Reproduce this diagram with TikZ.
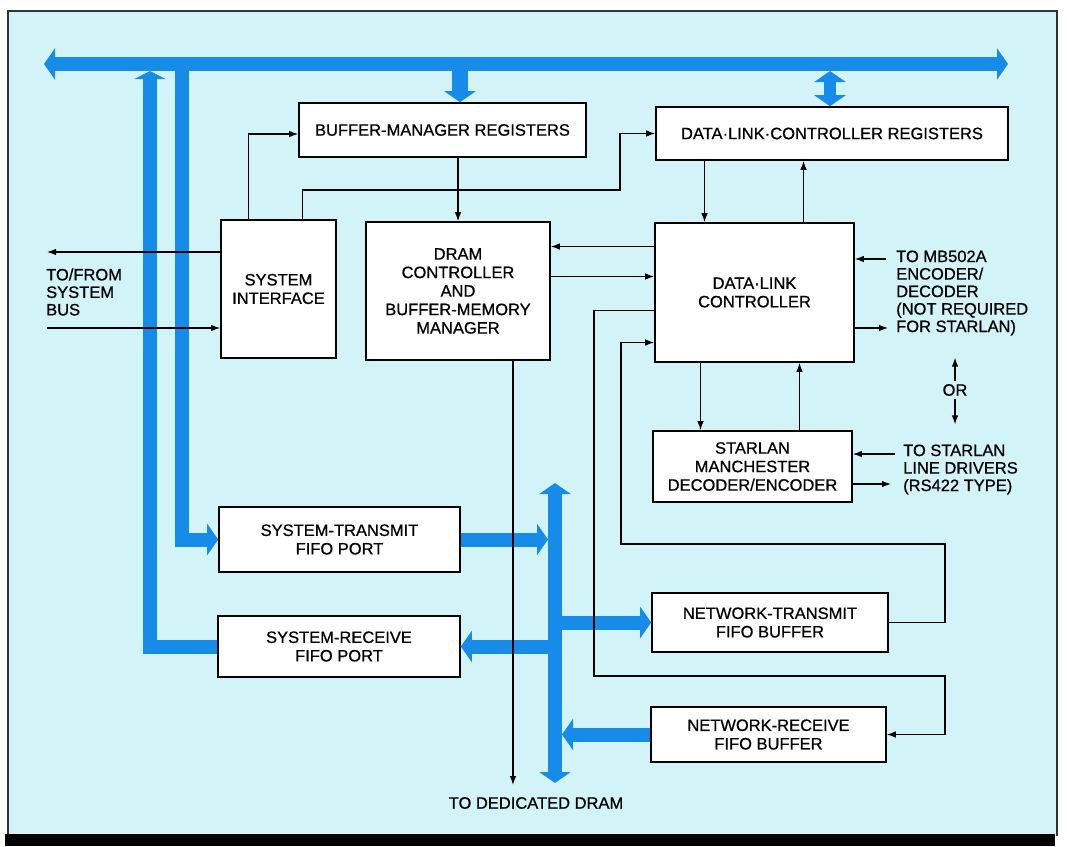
\documentclass[tikz,border=0pt]{standalone}
\usepackage{fontspec}
\setmainfont{Liberation Sans}[FakeBold=0.7]
\usetikzlibrary{arrows.meta}
\definecolor{bgcyan}{RGB}{210,243,248}
\definecolor{busblue}{RGB}{22,140,232}
\newcommand{\diagfont}{\fontsize{16.5}{18.5}\selectfont}
\newcommand{\notefont}{\fontsize{16.5}{17.5}\selectfont}
\begin{document}
\begin{tikzpicture}[x=1pt, y=-1pt,
    every node/.style={font=\diagfont},
    blk/.style={draw, fill=white, line width=1.6pt, inner sep=0pt, align=center},
    bus/.style={line width=14pt, draw=busblue, -{Triangle[length=11pt,width=31pt]}},
    busboth/.style={bus, {Triangle[length=11pt,width=31pt]}-{Triangle[length=11pt,width=31pt]}},
    wire/.style={line width=1.2pt, -{Latex[length=9pt,width=6.5pt]}},
    note/.style={align=left, inner sep=0pt, anchor=west, font=\notefont}]
    \useasboundingbox (0,0) rectangle (1067,846);
    \fill[white] (0,0) rectangle (1067,846);
    \fill[bgcyan] (8,11) rectangle (1057,836);
    \draw[line width=1.5pt, black!80] (8,836) -- (8,11) -- (1057,11) -- (1057,836);
    \fill[black] (5,834) rectangle (1055,846);

    \node[blk, minimum width=287pt, minimum height=54pt] (bmr) at (442.5,130) {BUFFER-MANAGER REGISTERS};
    \node[blk, minimum width=352pt, minimum height=53pt] (dlcr) at (832,133.5) {DATA·LINK·CONTROLLER REGISTERS};
    \node[blk, minimum width=115pt, minimum height=138pt] (si) at (278.5,289) {SYSTEM\\INTERFACE};
    \node[blk, minimum width=184pt, minimum height=138pt] (dram) at (458,291) {DRAM\\CONTROLLER\\AND\\BUFFER-MEMORY\\MANAGER};
    \node[blk, minimum width=199pt, minimum height=139pt] (dlc) at (754.5,292.5) {DATA·LINK\\CONTROLLER};
    \node[blk, minimum width=199pt, minimum height=71pt] (sm) at (752.5,466.5) {STARLAN\\MANCHESTER\\DECODER/ENCODER};
    \node[blk, minimum width=241pt, minimum height=65pt] (stx) at (339.5,539.5) {SYSTEM-TRANSMIT\\FIFO PORT};
    \node[blk, minimum width=242pt, minimum height=61pt] (srx) at (339,646.5) {SYSTEM-RECEIVE\\FIFO PORT};
    \node[blk, minimum width=236pt, minimum height=59pt] (ntx) at (770,622.5) {NETWORK-TRANSMIT\\FIFO BUFFER};
    \node[blk, minimum width=235pt, minimum height=55pt] (nrx) at (768.5,734.5) {NETWORK-RECEIVE\\FIFO BUFFER};

    \coordinate (busL) at (44,64);
    \coordinate (busR) at (1008,64);
    \draw[busboth] (busL) -- (busR);
    \coordinate (lbus) at (150,71);
    \draw[bus, -{Triangle[length=8pt,width=31pt]}] (srx.west) -| (lbus);
    \coordinate (rbus) at (182,64);
    \draw[bus] (rbus) |- (stx.west);
    \coordinate (bmrbus) at (460,64);
    \draw[bus, line width=16pt] (bmrbus) -- (bmrbus |- bmr.north);
    \coordinate (dlcrbus) at (830,71);
    \draw[busboth, line width=12pt] (dlcrbus) -- (dlcrbus |- dlcr.north);
    \coordinate (mbT) at (555,483);
    \coordinate (mbB) at (555,783);
    \draw[busboth] (mbT) -- (mbB);
    \draw[bus] (stx.east) -- ([xshift=-7pt]stx.east -| mbT);
    \draw[bus] ([xshift=7pt]srx.east -| mbT) -- (srx.east);
    \draw[bus] ([xshift=7pt]ntx.west -| mbT) -- (ntx.west);
    \draw[bus] (nrx.west) -- ([xshift=7pt]nrx.west -| mbT);

    \draw[wire] ([xshift=28pt]si.north west) |- ([yshift=-4pt]bmr.west);
    \coordinate (sibend) at (620,190);
    \draw[wire] ([xshift=82pt]si.north west) |- (sibend) |- (dlcr.west);
    \draw[wire] (bmr.south -| dram.north) -- (dram.north);
    \draw[wire] ([xshift=-50pt]dlc.north |- dlcr.south) -- ([xshift=-50pt]dlc.north);
    \draw[wire] ([xshift=49pt]dlc.north) -- ([xshift=49pt]dlc.north |- dlcr.south);
    \draw[wire] ([yshift=46pt]dlc.west) -- ([yshift=46pt]dlc.west -| dram.east);
    \draw[wire] ([yshift=16pt]dlc.west -| dram.east) -- ([yshift=16pt]dlc.west);
    \coordinate (nrA) at (594,676);
    \coordinate (nrB) at (945,676);
    \draw[wire] ([yshift=-18pt]dlc.west) -| (nrA) -- (nrB) |- (nrx.east);
    \coordinate (ntA) at (945,544);
    \coordinate (ntB) at (621,544);
    \draw[wire] (ntx.east) -| (ntA) -- (ntB) |- ([yshift=-50pt]dlc.west);
    \draw[wire] ([xshift=-52pt]sm.north |- dlc.south) -- ([xshift=-52pt]sm.north);
    \draw[wire] ([xshift=47pt]sm.north) -- ([xshift=47pt]sm.north |- dlc.south);
    \coordinate (dramend) at (513,785);
    \draw[wire] (dram.south -| dramend) -- (dramend);
    \node (dedram) at (536,803) {TO DEDICATED DRAM};

    \coordinate (sysout) at (47,252);
    \coordinate (sysin) at (47,328);
    \draw[wire] (si.west |- sysout) -- (sysout);
    \draw[wire] (sysin) -- (si.west |- sysin);
    \node[note] (sysbus) at (46,292) {TO/FROM\\SYSTEM\\BUS};

    \coordinate (mbin) at (886,259);
    \coordinate (mbout) at (888,328);
    \draw[wire] (mbin) -- (mbin -| dlc.east);
    \draw[wire] (mbout -| dlc.east) -- (mbout);
    \node[note] (mbnote) at (896,293) {TO MB502A\\ENCODER/\\DECODER\\(NOT REQUIRED\\FOR STARLAN)};
    \node (ornote) at (955,390) {OR};
    \draw[wire] (ornote.north) -- ++(0,-23);
    \draw[wire] (ornote.south) -- ++(0,25);
    \coordinate (slin) at (895,454);
    \coordinate (slout) at (891,484);
    \draw[wire] (slin) -- (slin -| sm.east);
    \draw[wire] (slout -| sm.east) -- (slout);
    \node[note] (slnote) at (903,469.5) {TO STARLAN\\LINE DRIVERS\\(RS422 TYPE)};
\end{tikzpicture}
\end{document}
